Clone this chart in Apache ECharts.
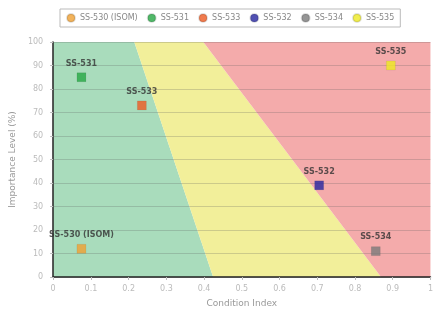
<!DOCTYPE html>
<html>
<head>
<meta charset="utf-8">
<script src="https://cdn.jsdelivr.net/npm/echarts@6/dist/echarts.min.js"></script>
<style>
  html, body { margin: 0; padding: 0; background: #fff; }
  #chart { width: 436px; height: 313px; }
</style>
</head>
<body>
<div id="chart"></div>
<script>
// assets: name, condition index, importance level
var assetNames = ['SS-530 (ISOM)', 'SS-531', 'SS-533', 'SS-532', 'SS-534', 'SS-535'];
var conditionIdx = [0.075, 0.075, 0.235, 0.705, 0.855, 0.895];
var importance = [12, 85, 73, 39, 11, 90];
var assetColors = ['#f0a032', '#25a844', '#ee5a22', '#2626a0', '#7a7a7a', '#eeea22'];

// background zones (condition index, importance level)
var greenZone = [[0, 0], [0.424, 0], [0.215, 100], [0, 100]];
var yellowZone = [[0.215, 100], [0.398, 100], [0.869, 0], [0.424, 0]];
var redZone = [[0.398, 100], [1, 100], [1, 0], [0.869, 0]];
var zoneColors = ['#a9dcbc', '#f2ef9a', '#f4abab'];

var xTicks = ['0', '0.1', '0.2', '0.3', '0.4', '0.5', '0.6', '0.7', '0.8', '0.9', '1'];

var chart = echarts.init(document.getElementById('chart'));

function zoneSeries(pts, color) {
  return {
    type: 'custom',
    silent: true,
    z: 1,
    data: [0],
    renderItem: function (params, api) {
      return {
        type: 'polygon',
        shape: { points: pts.map(function (p) { return api.coord(p); }) },
        style: { fill: color }
      };
    }
  };
}

var series = [
  zoneSeries(greenZone, zoneColors[0]),
  zoneSeries(yellowZone, zoneColors[1]),
  zoneSeries(redZone, zoneColors[2])
];

assetNames.forEach(function (n, i) {
  series.push({
    name: n,
    type: 'scatter',
    z: 5,
    symbol: 'rect',
    symbolSize: 9,
    itemStyle: { color: assetColors[i], borderColor: 'rgba(0,0,0,0.15)', borderWidth: 0.5 },
    label: {
      show: true,
      position: 'top',
      distance: 5,
      formatter: n,
      color: '#333',
      fontSize: 8,
      fontWeight: 'bold',
      fontFamily: 'DejaVu Sans'
    },
    data: [[conditionIdx[i], importance[i]]]
  });
});

var option = {
  animation: false,
  textStyle: { fontFamily: 'DejaVu Sans' },
  legend: {
    top: 9,
    left: 60,
    icon: 'circle',
    itemWidth: 8,
    itemHeight: 8,
    itemGap: 9,
    padding: [4, 6],
    borderColor: '#bbb',
    borderWidth: 1,
    textStyle: { color: '#888', fontSize: 8 },
    data: assetNames
  },
  grid: { left: 51, right: 3, top: 42, bottom: 36 },
  xAxis: {
    type: 'value',
    z: 3,
    min: 0,
    max: 1,
    interval: 0.1,
    name: 'Condition Index',
    nameLocation: 'middle',
    nameGap: 22,
    nameTextStyle: { color: '#999', fontSize: 9 },
    axisLine: { lineStyle: { color: '#222', width: 1.5 } },
    axisTick: { show: true, length: 3, lineStyle: { color: '#bbb' } },
    axisLabel: {
      color: '#bbb', fontSize: 8, margin: 8,
      formatter: function (v) { return xTicks[Math.round(v * 10)]; }
    },
    splitLine: { show: false }
  },
  yAxis: {
    type: 'value',
    z: 3,
    min: 0,
    max: 100,
    interval: 10,
    name: 'Importance Level (%)',
    nameLocation: 'middle',
    nameGap: 32,
    nameTextStyle: { color: '#999', fontSize: 9 },
    axisLine: { show: true, lineStyle: { color: '#222', width: 1.5 } },
    axisTick: { show: true, length: 3, lineStyle: { color: '#bbb' } },
    axisLabel: { color: '#bbb', fontSize: 8, margin: 10 },
    splitLine: { show: true, lineStyle: { color: 'rgba(90,90,90,0.25)', width: 1 } }
  },
  series: series
};

chart.setOption(option);
</script>
</body>
</html>
